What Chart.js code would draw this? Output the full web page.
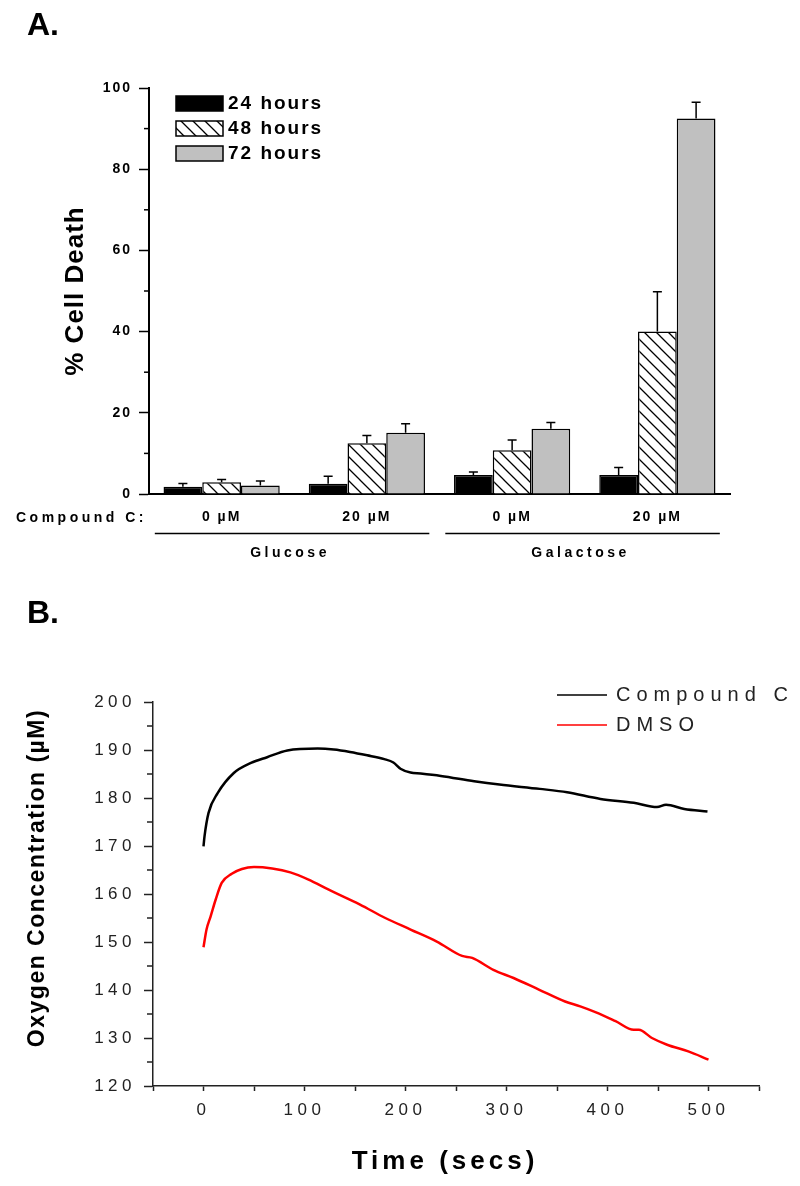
<!DOCTYPE html>
<html>
<head>
<meta charset="utf-8">
<script src="https://cdn.jsdelivr.net/npm/chart.js@4.4.1/dist/chart.umd.min.js"></script>
<style>
  html, body { margin: 0; padding: 0; background: #fff; }
  #wrap { position: relative; width: 800px; height: 1186px; background: #fff; }
  canvas { position: absolute; left: 0; }
  #chartA { top: 0; }
  #chartB { top: 580px; }
</style>
</head>
<body>
<div id="wrap">
  <canvas id="chartA" width="800" height="580"></canvas>
  <canvas id="chartB" width="800" height="606"></canvas>
</div>
<script>
// ---- Panel A data ----
const categories = ['0 \u00b5M', '20 \u00b5M', '0 \u00b5M', '20 \u00b5M'];
const groupNames = ['Glucose', 'Galactose'];
const groupMembers = [[0, 1], [2, 3]];
const hours24 = [1.8, 2.5, 4.7, 4.7];
const err24 = [0.8, 1.9, 0.7, 1.8];
const hours48 = [2.9, 12.5, 10.8, 40.0];
const err48 = [0.7, 1.9, 2.5, 9.8];
const hours72 = [2.1, 15.1, 16.1, 92.5];
const err72 = [1.1, 2.2, 1.5, 4.0];
const cellTicks = [0, 20, 40, 60, 80, 100];

// ---- Panel B data ----
const compTime = [0, 1, 5, 14, 30, 47, 63, 83, 113, 129, 145, 162, 179, 188, 195, 205, 215, 235, 268, 293, 333, 360, 393, 426, 449, 458, 476, 499];
const compO2 = [169.9, 172.0, 176.9, 181.0, 185.2, 187.3, 188.5, 189.9, 190.3, 190.1, 189.6, 188.9, 188.1, 187.4, 186.1, 185.3, 185.1, 184.6, 183.5, 182.8, 181.9, 181.2, 179.8, 179.0, 178.1, 178.6, 177.7, 177.2];
const dmsoTime = [0, 3, 7, 12, 18, 28, 38, 50, 68, 86, 104, 124, 155, 180, 205, 231, 256, 266, 287, 307, 332, 358, 373, 388, 408, 426, 431, 444, 459, 480, 500];
const dmsoO2 = [148.9, 152.6, 155.3, 158.8, 162.3, 164.2, 165.2, 165.6, 165.3, 164.5, 163.0, 160.9, 157.8, 155.0, 152.6, 150.1, 147.1, 146.7, 144.2, 142.5, 140.1, 137.6, 136.6, 135.4, 133.5, 131.7, 131.7, 130.0, 128.6, 127.2, 125.5];

const FONT = "'Liberation Sans', Arial, sans-serif";

// hatch pattern for the 48 hour bars
function makeHatch() {
  const c = document.createElement('canvas');
  c.width = 12; c.height = 12;
  const g = c.getContext('2d');
  g.fillStyle = '#fff';
  g.fillRect(0, 0, 12, 12);
  g.strokeStyle = '#000';
  g.lineWidth = 1.3;
  g.beginPath();
  for (let k = -1; k <= 1; k++) {
    g.moveTo(-2, -2 + 12 * k);
    g.lineTo(14, 14 + 12 * k);
  }
  g.stroke();
  return document.getElementById('chartA').getContext('2d').createPattern(c, 'repeat');
}

function drawText(ctx, str, x, y, opt) {
  ctx.save();
  ctx.font = opt.font;
  ctx.letterSpacing = opt.spacing || '0px';
  ctx.fillStyle = opt.color || '#000';
  ctx.textAlign = opt.align || 'left';
  ctx.textBaseline = opt.baseline || 'middle';
  ctx.translate(x, y);
  if (opt.rotate) ctx.rotate(opt.rotate);
  ctx.fillText(str, 0, 0);
  ctx.restore();
}

// letter spacing for the library's own tick labels
const spacing = {
  id: 'spacing',
  beforeDraw(chart, args, opts) {
    chart.ctx.letterSpacing = opts.value || '0px';
  }
};

// minor tick marks between labelled ticks
const minorTicks = {
  id: 'minorTicks',
  afterDraw(chart, args, opts) {
    const ctx = chart.ctx;
    (opts.axes || []).forEach(a => {
      const s = chart.scales[a.id];
      ctx.save();
      ctx.strokeStyle = a.color;
      ctx.lineWidth = a.width;
      for (let v = s.min; v <= s.max + 1e-9; v += a.step) {
        if (Math.abs(v % a.skip) < 1e-9) continue;
        const p = s.getPixelForValue(v);
        ctx.beginPath();
        ctx.moveTo(s.right - a.length, p);
        ctx.lineTo(s.right, p);
        ctx.stroke();
      }
      ctx.restore();
    });
  }
};

// upper error bars
const errorBars = {
  id: 'errorBars',
  afterDatasetsDraw(chart) {
    const ctx = chart.ctx;
    const y = chart.scales.y;
    ctx.save();
    ctx.strokeStyle = '#000';
    ctx.lineWidth = 1.5;
    chart.data.datasets.forEach((ds, i) => {
      const meta = chart.getDatasetMeta(i);
      meta.data.forEach((bar, j) => {
        const top = y.getPixelForValue(ds.data[j] + ds.errors[j]);
        ctx.beginPath();
        ctx.moveTo(bar.x, bar.y);
        ctx.lineTo(bar.x, top);
        ctx.moveTo(bar.x - 4.5, top);
        ctx.lineTo(bar.x + 4.5, top);
        ctx.stroke();
      });
    });
    ctx.restore();
  }
};

// panel A extras: legend, titles, group labels
const panelA = {
  id: 'panelA',
  afterDraw(chart) {
    const ctx = chart.ctx;
    const area = chart.chartArea;
    const x = chart.scales.x;
    drawText(ctx, 'A.', 27, 35, { font: 'bold 32px ' + FONT, baseline: 'alphabetic' });
    drawText(ctx, '% Cell Death', 76, (area.top + area.bottom) / 2,
      { font: 'bold 26px ' + FONT, align: 'center', rotate: -Math.PI / 2, spacing: '1px' });

    // legend
    chart.data.datasets.forEach((ds, i) => {
      const lx = area.left + 27, ly = area.top + 8 + i * 25;
      ctx.save();
      ctx.fillStyle = ds.backgroundColor;
      ctx.fillRect(lx, ly, 47, 15);
      ctx.strokeStyle = '#000';
      ctx.lineWidth = 1.5;
      ctx.strokeRect(lx, ly, 47, 15);
      ctx.restore();
      drawText(ctx, ds.label, lx + 52, ly + 8, { font: 'bold 19px ' + FONT, spacing: '2px' });
    });

    drawText(ctx, 'Compound C:', area.left - 2, area.bottom + 24,
      { font: 'bold 14px ' + FONT, align: 'right', spacing: '3.5px' });

    const catW = (x.right - x.left) / categories.length;
    groupNames.forEach((name, g) => {
      const m = groupMembers[g];
      const x1 = x.getPixelForValue(m[0]) - 0.46 * catW;
      const x2 = x.getPixelForValue(m[m.length - 1]) + 0.43 * catW;
      const ly = area.bottom + 39.5;
      ctx.save();
      ctx.strokeStyle = '#000';
      ctx.lineWidth = 1.5;
      ctx.beginPath();
      ctx.moveTo(x1, ly);
      ctx.lineTo(x2, ly);
      ctx.stroke();
      ctx.restore();
      drawText(ctx, name, (x1 + x2) / 2 - 2, area.bottom + 59,
        { font: 'bold 14px ' + FONT, align: 'center', spacing: '3.5px' });
    });
  }
};

// panel B extras: legend and titles
const panelB = {
  id: 'panelB',
  afterDraw(chart) {
    const ctx = chart.ctx;
    const area = chart.chartArea;
    drawText(ctx, 'B.', 27, 43, { font: 'bold 32px ' + FONT, baseline: 'alphabetic' });
    drawText(ctx, 'Oxygen Concentration (\u00b5M)', 38, (area.top + area.bottom) / 2 - 16,
      { font: 'bold 23px ' + FONT, align: 'center', rotate: -Math.PI / 2, spacing: '1.5px' });
    drawText(ctx, 'Time (secs)', (area.left + area.right) / 2 - 11, area.bottom + 76,
      { font: 'bold 26px ' + FONT, align: 'center', spacing: '4px' });

    chart.data.datasets.forEach((ds, i) => {
      const lx = area.right - 202, ly = area.top - 7 + i * 30;
      ctx.save();
      ctx.strokeStyle = ds.borderColor;
      ctx.lineWidth = 1.5;
      ctx.beginPath();
      ctx.moveTo(lx, ly);
      ctx.lineTo(lx + 50, ly);
      ctx.stroke();
      ctx.restore();
      drawText(ctx, ds.label, lx + 59, ly, { font: '20px ' + FONT, spacing: '6px', color: '#222' });
    });
  }
};

const hatch = makeHatch();

new Chart(document.getElementById('chartA'), {
  type: 'bar',
  data: {
    labels: categories,
    datasets: [
      { label: '24 hours', data: hours24, errors: err24, backgroundColor: '#000' },
      { label: '48 hours', data: hours48, errors: err48, backgroundColor: hatch },
      { label: '72 hours', data: hours72, errors: err72, backgroundColor: '#c0c0c0' }
    ].map(d => Object.assign(d, {
      borderColor: '#000', borderWidth: 1.5, categoryPercentage: 0.8, barPercentage: 1.0
    }))
  },
  options: {
    responsive: false,
    animation: false,
    layout: { padding: { top: 88, right: 70, bottom: 26, left: 0 } },
    plugins: {
      legend: { display: false },
      tooltip: { enabled: false },
      spacing: { value: '2px' },
      minorTicks: { axes: [{ id: 'y', step: 10, skip: 20, length: 5, width: 1.5, color: '#000' }] }
    },
    scales: {
      x: {
        offset: true,
        grid: { display: false, drawTicks: false },
        border: { display: true, color: '#000', width: 2 },
        ticks: { color: '#000', font: { family: FONT, size: 14, weight: 'bold' }, padding: 15, maxRotation: 0, autoSkip: false },
        afterFit(s) { s.height = 60; }
      },
      y: {
        min: cellTicks[0],
        max: cellTicks[cellTicks.length - 1],
        afterBuildTicks(s) { s.ticks = cellTicks.map(v => ({ value: v })); },
        grid: { drawOnChartArea: false, drawTicks: true, tickLength: 10, tickWidth: 1.5, tickColor: '#000' },
        border: { color: '#000', width: 2 },
        ticks: { color: '#000', font: { family: FONT, size: 14, weight: 'bold' }, padding: 7 },
        afterFit(s) { s.width = 149; }
      }
    }
  },
  plugins: [spacing, minorTicks, errorBars, panelA]
});

new Chart(document.getElementById('chartB'), {
  type: 'line',
  data: {
    datasets: [
      { label: 'Compound C', data: compTime.map((t, i) => ({ x: t, y: compO2[i] })), borderColor: '#000' },
      { label: 'DMSO', data: dmsoTime.map((t, i) => ({ x: t, y: dmsoO2[i] })), borderColor: '#ff0000' }
    ].map(d => Object.assign(d, {
      borderWidth: 2.5, pointRadius: 0, fill: false, cubicInterpolationMode: 'monotone'
    }))
  },
  options: {
    responsive: false,
    animation: false,
    layout: { padding: { top: 122, right: 41, bottom: 40, left: 0 } },
    plugins: {
      legend: { display: false },
      tooltip: { enabled: false },
      spacing: { value: '4.5px' },
      minorTicks: { axes: [{ id: 'y', step: 5, skip: 10, length: 6, width: 1.5, color: '#222' }] }
    },
    scales: {
      x: {
        type: 'linear',
        min: -50,
        max: 550,
        grid: { drawOnChartArea: false, drawTicks: true, tickLength: 5, tickWidth: 1.5, tickColor: '#222' },
        border: { color: '#222', width: 1.5 },
        ticks: {
          stepSize: 50, autoSkip: false, maxRotation: 0, padding: 9, color: '#222',
          font: { family: FONT, size: 17 },
          callback: v => (v % 100 === 0 && v >= 0 && v <= 500) ? v : ''
        },
        afterFit(s) { s.height = 60; }
      },
      y: {
        min: 120,
        max: 200,
        grid: { drawOnChartArea: false, drawTicks: true, tickLength: 9, tickWidth: 1.5, tickColor: '#222' },
        border: { color: '#222', width: 1.5 },
        ticks: { stepSize: 10, padding: 8, color: '#222', font: { family: FONT, size: 17 } },
        afterFit(s) { s.width = 153; }
      }
    }
  },
  plugins: [spacing, minorTicks, panelB]
});
</script>
</body>
</html>
